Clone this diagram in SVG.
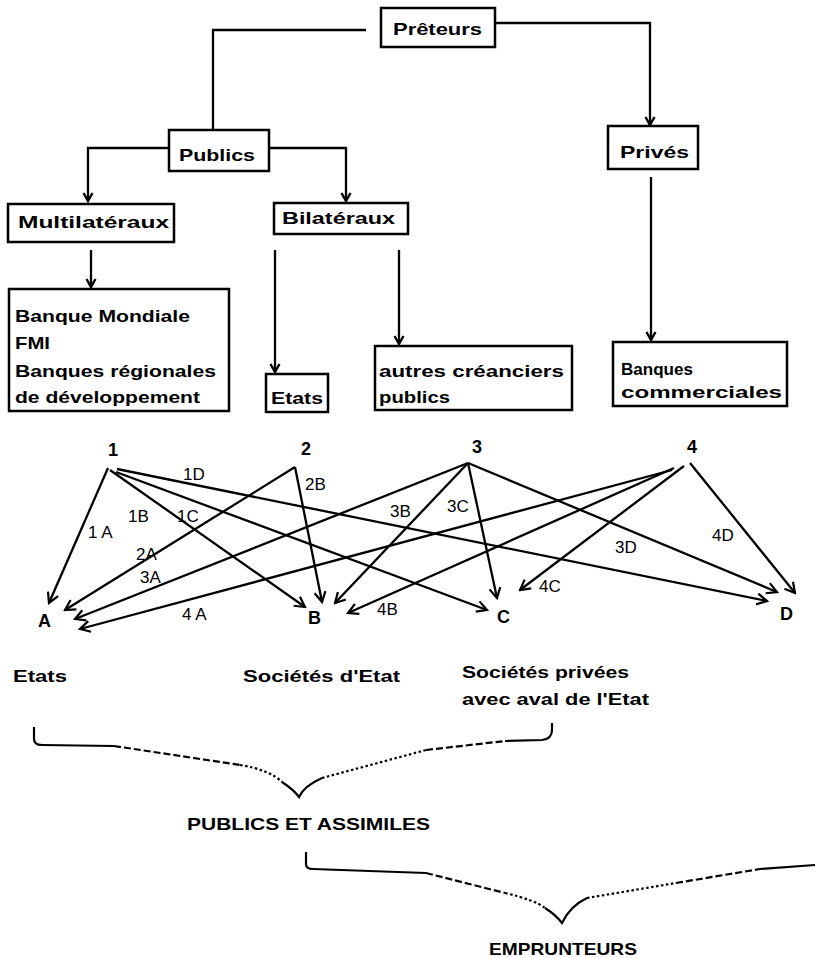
<svg xmlns="http://www.w3.org/2000/svg" width="815" height="958" viewBox="0 0 815 958">
<style>
.bx{fill:#fff;stroke:#000;stroke-width:2.5}
.t{font-family:"Liberation Sans",Arial,sans-serif;font-size:17px;font-weight:bold;fill:#000}
.n{font-family:"Liberation Sans",Arial,sans-serif;font-size:18px;font-weight:bold;fill:#000}
.l{font-family:"Liberation Sans",Arial,sans-serif;font-size:17px;fill:#000}
.c{fill:none;stroke:#000;stroke-width:2.3}
.s{fill:none;stroke:#000;stroke-width:2.2}
.d{fill:none;stroke:#000;stroke-width:2.2;stroke-dasharray:7 3}
.o{fill:none;stroke:#000;stroke-width:2.2;stroke-dasharray:2.5 2.5}
</style>
<defs>
<marker id="a" markerWidth="14" markerHeight="14" refX="12" refY="7" orient="auto" markerUnits="userSpaceOnUse"><path d="M2,1.5 L12,7 L2,12.5" fill="none" stroke="#000" stroke-width="2.2"/></marker>
<marker id="v" markerWidth="12" markerHeight="12" refX="10" refY="6" orient="auto" markerUnits="userSpaceOnUse"><path d="M2,1.5 L10,6 L2,10.5" fill="none" stroke="#000" stroke-width="2.4"/></marker>
</defs>
<rect width="815" height="958" fill="#fff"/>

<g id="connectors">
<polyline class="c" points="366,30 213,30 213,130"/>
<polyline class="c" points="495,23 650,23 650,125" marker-end="url(#v)"/>
<polyline class="c" points="169,148 88,148 88,201" marker-end="url(#v)"/>
<polyline class="c" points="269,148 346,148 346,201" marker-end="url(#v)"/>
<line class="c" x1="651" y1="177" x2="651" y2="340" marker-end="url(#v)"/>
<line class="c" x1="91" y1="250" x2="91" y2="287" marker-end="url(#v)"/>
<line class="c" x1="275" y1="250" x2="275" y2="372" marker-end="url(#v)"/>
<line class="c" x1="399" y1="250" x2="399" y2="344" marker-end="url(#v)"/>

<g id="flows">
<line class="c" x1="108" y1="468" x2="49" y2="603" marker-end="url(#a)"/>
<line class="c" x1="110" y1="470" x2="305" y2="607" marker-end="url(#a)"/>
<line class="c" x1="116" y1="472" x2="487" y2="610" marker-end="url(#a)"/>
<line class="c" x1="117" y1="469" x2="767" y2="601" marker-end="url(#a)"/>
<line class="c" x1="295" y1="467" x2="65" y2="610" marker-end="url(#a)"/>
<line class="c" x1="295" y1="467" x2="322" y2="602" marker-end="url(#a)"/>
<line class="c" x1="468" y1="463" x2="75" y2="619" marker-end="url(#a)"/>
<line class="c" x1="468" y1="463" x2="335" y2="603" marker-end="url(#a)"/>
<line class="c" x1="468" y1="463" x2="497" y2="598" marker-end="url(#a)"/>
<line class="c" x1="468" y1="463" x2="777" y2="592" marker-end="url(#a)"/>
<line class="c" x1="672" y1="470" x2="80" y2="629" marker-end="url(#a)"/>
<line class="c" x1="674" y1="468" x2="348" y2="613" marker-end="url(#a)"/>
<line class="c" x1="684" y1="466" x2="520" y2="590" marker-end="url(#a)"/>
<line class="c" x1="690" y1="463" x2="795" y2="593" marker-end="url(#a)"/>
</g>
</g>

<g id="preteurs"><rect class="bx" x="381" y="8" width="114" height="39"/><text class="t" x="393" y="35" textLength="89" lengthAdjust="spacingAndGlyphs">Prêteurs</text></g>
<g id="publics"><rect class="bx" x="169" y="130" width="100" height="41"/><text class="t" x="179" y="161" textLength="76" lengthAdjust="spacingAndGlyphs">Publics</text></g>
<g id="prives"><rect class="bx" x="608" y="126" width="90" height="43"/><text class="t" x="620" y="158" textLength="69" lengthAdjust="spacingAndGlyphs">Privés</text></g>
<g id="multilateraux"><rect class="bx" x="8" y="204" width="166" height="38"/><text class="t" x="18" y="228" textLength="151" lengthAdjust="spacingAndGlyphs">Multilatéraux</text></g>
<g id="bilateraux"><rect class="bx" x="274" y="203" width="134" height="31"/><text class="t" x="282" y="224" textLength="113" lengthAdjust="spacingAndGlyphs">Bilatéraux</text></g>
<g id="banque-mondiale"><rect class="bx" x="9" y="289" width="220" height="122"/>
<text class="t" x="15" y="322" textLength="175" lengthAdjust="spacingAndGlyphs">Banque Mondiale</text>
<text class="t" x="15" y="349" textLength="35" lengthAdjust="spacingAndGlyphs">FMI</text>
<text class="t" x="15" y="377" textLength="201" lengthAdjust="spacingAndGlyphs">Banques régionales</text>
<text class="t" x="15" y="403" textLength="185" lengthAdjust="spacingAndGlyphs">de développement</text></g>
<g id="etats-box"><rect class="bx" x="266" y="374" width="62" height="38"/><text class="t" x="271" y="404" textLength="52" lengthAdjust="spacingAndGlyphs">Etats</text></g>
<g id="autres"><rect class="bx" x="375" y="346" width="197" height="64"/>
<text class="t" x="379" y="377" textLength="185" lengthAdjust="spacingAndGlyphs">autres créanciers</text>
<text class="t" x="379" y="403" textLength="71" lengthAdjust="spacingAndGlyphs">publics</text></g>
<g id="banques-commerciales"><rect class="bx" x="613" y="342" width="174" height="64"/>
<text class="t" x="621" y="375" textLength="72" lengthAdjust="spacingAndGlyphs">Banques</text>
<text class="t" x="621" y="398" textLength="161" lengthAdjust="spacingAndGlyphs">commerciales</text></g>

<g id="sources">
<text class="n" x="108" y="456">1</text>
<text class="n" x="301" y="455">2</text>
<text class="n" x="472" y="453">3</text>
<text class="n" x="687" y="453">4</text>
</g>
<g id="targets">
<text class="n" x="38" y="627">A</text>
<text class="n" x="308" y="624">B</text>
<text class="n" x="497" y="623">C</text>
<text class="n" x="780" y="620">D</text>
</g>
<g id="flow-labels">
<text class="l" x="183" y="480">1D</text>
<text class="l" x="305" y="490">2B</text>
<text class="l" x="128" y="522">1B</text>
<text class="l" x="177" y="522">1C</text>
<text class="l" x="88" y="538">1 A</text>
<text class="l" x="136" y="560">2A</text>
<text class="l" x="140" y="583">3A</text>
<text class="l" x="182" y="620">4 A</text>
<text class="l" x="377" y="615">4B</text>
<text class="l" x="390" y="517">3B</text>
<text class="l" x="447" y="512">3C</text>
<text class="l" x="615" y="553">3D</text>
<text class="l" x="712" y="541">4D</text>
<text class="l" x="539" y="592">4C</text>
</g>

<g id="borrowers">
<text class="t" x="13" y="682" textLength="54" lengthAdjust="spacingAndGlyphs">Etats</text>
<text class="t" x="243" y="682" textLength="157" lengthAdjust="spacingAndGlyphs">Sociétés d'Etat</text>
<text class="t" x="462" y="678" textLength="167" lengthAdjust="spacingAndGlyphs">Sociétés privées</text>
<text class="t" x="462" y="705" textLength="187" lengthAdjust="spacingAndGlyphs">avec aval de l'Etat</text>
</g>

<g id="brace-publics">
<path class="s" d="M34,727 L34,739 Q34,745 42,745 L114,746"/>
<path class="d" d="M114,746 L240,765"/>
<path class="o" d="M240,765 Q270,770 282,782"/>
<path class="s" d="M282,782 Q294,790 299,797 Q304,786 322,778"/>
<path class="o" d="M322,778 L426,750"/>
<path class="d" d="M426,750 L505,741"/>
<path class="s" d="M505,741 L542,740 Q552,739 552,730 L552,723"/>
<text class="t" x="187" y="830" textLength="243" lengthAdjust="spacingAndGlyphs">PUBLICS ET ASSIMILES</text>
</g>
<g id="brace-emprunteurs">
<path class="s" d="M306,852 L306,864 Q306,869 313,869 L426,873"/>
<path class="d" d="M426,873 L505,893"/>
<path class="o" d="M505,893 Q535,900 545,908"/>
<path class="s" d="M545,908 Q556,915 562,923 Q570,906 587,898"/>
<path class="o" d="M587,898 L676,883"/>
<path class="d" d="M676,883 L760,869"/>
<path class="s" d="M760,869 L815,865"/>
<text class="t" x="489" y="955" textLength="148" lengthAdjust="spacingAndGlyphs">EMPRUNTEURS</text>
</g>
</svg>
